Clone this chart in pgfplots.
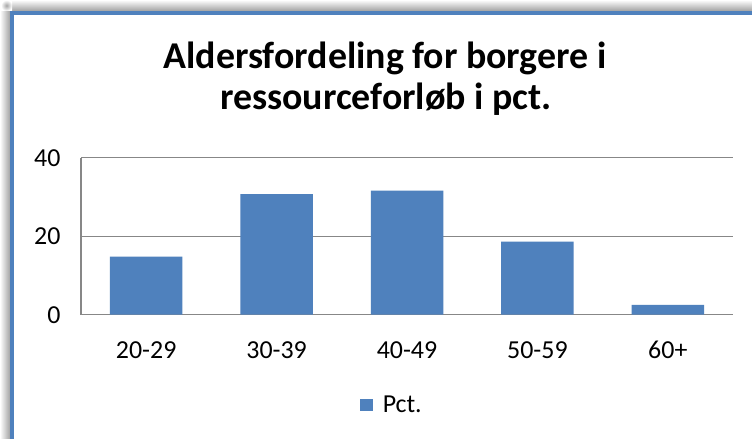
\documentclass[border=0pt]{standalone}
\usepackage{fontspec}
\setmainfont{Carlito}
\usepackage{pgfplots}
\pgfplotsset{compat=1.18}
\definecolor{barblue}{HTML}{4F81BD}
\definecolor{axgray}{HTML}{878787}
\begin{document}
\begin{tikzpicture}[x=1bp,y=1bp]
\useasboundingbox (0,0) rectangle (752,439);
\fill[white] (0,0) rectangle (752,439);
% shadow
\shade[top color=white, bottom color=black!40] (10,427) rectangle (752,439);
\shade[left color=white, right color=black!40] (0,0) rectangle (11,429);
\shade[inner color=black!35, outer color=white] (1,428) rectangle (12,439);
% frame border
\draw[barblue, line width=4bp] (12,0) -- (12,425.5) -- (752,425.5);
\draw[white, line width=1bp] (14.5,0) -- (14.5,423) -- (752,423);
% title
\node[anchor=base, font=\bfseries\fontsize{38}{42}\selectfont] at (385,370) {Aldersfordeling for borgere i};
\node[anchor=base, font=\bfseries\fontsize{38}{42}\selectfont] at (386,329) {ressourceforløb i pct.};
\begin{axis}[
  at={(81bp,124.3bp)}, anchor=south west,
  scale only axis, width=652bp, height=157bp,
  xmin=-0.5, xmax=4.5, ymin=0, ymax=40,
  ytick={0,20,40},
  xtick={0,1,2,3,4},
  xticklabels={20-29,30-39,40-49,50-59,60+},
  major tick length=0pt,
  axis x line*=bottom, axis y line*=left,
  axis line style={axgray, line width=1.3bp, -},
  ymajorgrids, grid style={axgray, line width=1.3bp},
  tick label style={font=\fontsize{26}{30}\selectfont},
  /pgf/number format/assume math mode=true,
  yticklabel style={anchor=east, xshift=-17bp},
  xticklabel style={anchor=base, yshift=-44bp},
  ybar, bar width=72.5bp,
  legend style={at={(0.477,-0.575)}, anchor=center, draw=none, fill=none,
    font=\fontsize{26}{30}\selectfont, inner sep=0pt,
    /tikz/every odd column/.append style={column sep=8bp}},
  legend image code/.code={\fill[barblue] (0bp,-6.5bp) rectangle (12.5bp,6bp);},
]
\addplot[fill=barblue, draw=none, bar shift=0pt] coordinates {(0,14.8) (1,30.7) (2,31.6) (3,18.6) (4,2.5)};
\addlegendentry{Pct.}
\end{axis}
\end{tikzpicture}
\end{document}
